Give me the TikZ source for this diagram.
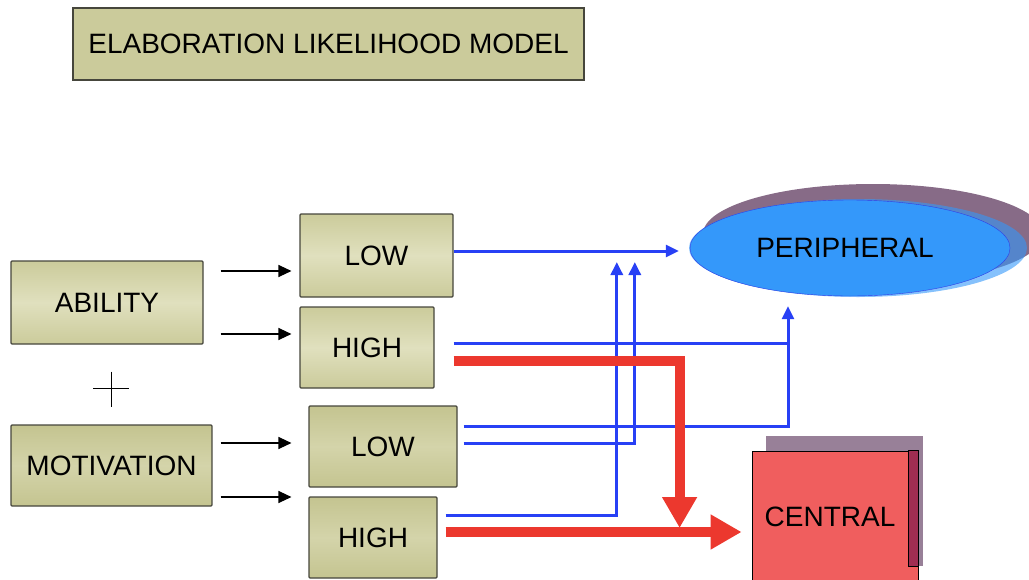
\documentclass[tikz,border=0pt]{standalone}
\usepackage{fontspec}
\setmainfont{Liberation Sans}
\usepackage{xcolor}
\usetikzlibrary{arrows.meta,calc,shapes.geometric,positioning}

\definecolor{boxedge}{RGB}{203,203,155}
\definecolor{boxmid}{RGB}{224,224,190}
\definecolor{boxdark}{RGB}{196,196,144}
\definecolor{boxdarkmid}{RGB}{212,212,170}
\definecolor{boxline}{RGB}{70,70,60}
\definecolor{bline}{RGB}{40,64,245}
\definecolor{rline}{RGB}{236,56,46}
\definecolor{pfill}{RGB}{52,152,250}
\definecolor{pline}{RGB}{50,60,230}
\definecolor{pshadow}{RGB}{105,70,105}
\definecolor{cfill}{RGB}{240,94,94}
\definecolor{cshadow}{RGB}{152,128,152}
\definecolor{cstrip}{RGB}{160,45,82}

\begin{document}
\begin{tikzpicture}[x=1pt,y=1pt,yscale=-1,xscale=1,
  txt/.style={font=\fontsize{28}{32}\selectfont, inner sep=0pt},
  box/.style={txt, draw=boxline, line width=1.1pt, rounded corners=1pt,
    top color=boxedge, bottom color=boxedge, middle color=boxmid},
  darkbox/.style={box, top color=boxdark, bottom color=boxdark, middle color=boxdarkmid},
  blk/.style={line width=1.2pt, -{Triangle[length=13pt,width=12pt]}, shorten >=8pt},
  blu/.style={draw=bline, line width=3pt},
  bluarr/.style={blu, -{Triangle[length=13pt,width=12pt]}},
  redarr/.style={draw=rline, line width=10pt, -{Triangle[length=31pt,width=33pt]}}]
\useasboundingbox (0,0) rectangle (1029,579);

% Text Node
\node[txt, draw=boxline, line width=1.1pt, fill=boxedge, minimum width=511pt, minimum height=72pt] (title) at (328.5,44) {ELABORATION LIKELIHOOD MODEL};

% Text Node
\node[box, minimum width=192pt, minimum height=83pt] (ability) at (107,302.5) {ABILITY};
\node[darkbox, minimum width=201pt, minimum height=81pt] (motivation) at (111.5,465.5) {MOTIVATION};

% Text Node
\node[box, minimum width=153pt, minimum height=83pt] (low1) at (376.5,255.5) {LOW};
\node[box, minimum width=134pt, minimum height=81pt] (high1) at (367,347.5) {HIGH};
\node[darkbox, minimum width=148pt, minimum height=81pt] (low2) at (383,446.5) {LOW};
\node[darkbox, minimum width=128pt, minimum height=81pt] (high2) at (373,537.5) {HIGH};

%Shape: Ellipse
\fill[pshadow, fill opacity=0.8] (873,234) ellipse [x radius=170, y radius=50];
\fill[pfill, fill opacity=0.6] (858,248) ellipse [x radius=169, y radius=49];
\node[txt, ellipse, draw=pline, fill=pfill, minimum width=320pt, minimum height=96pt, text depth=0pt, xshift=0pt] (periph) at (850,248) {};
\node[txt] (periphtext) at ($(periph.center)+(-5,0)$) {PERIPHERAL};

%Shape: Rectangle
\fill[cshadow] (766,436) rectangle (923,566);
\node[txt, draw=black, line width=0.8pt, fill=cfill, minimum width=166pt, minimum height=131pt] (central) at (835,516.5) {};
\filldraw[fill=cstrip, draw=black, line width=0.6pt] ($(central.north east)+(-10,0)$) rectangle ($(central.south east)+(0,-16)$);
\node[txt] (centraltext) at ($(central.center)+(-5,0)$) {CENTRAL};

%Straight Lines
\coordinate (plus) at ($(ability.south)!0.5!(motivation.north)+(2,4)$);
\draw[line width=0.9pt] ($(plus)+(-18,0)$) -- ($(plus)+(18,0)$);
\draw[line width=0.9pt] ($(plus)+(0,-17)$) -- ($(plus)+(0,18)$);

%Straight Lines
\draw[blk] ($(ability.east)+(17,-31.5)$) coordinate (a1) -- (a1 -| low1.west);
\draw[blk] ($(ability.east)+(17,31.5)$) coordinate (a2) -- (a2 -| high1.west);
\draw[blk, shorten >=17pt] ($(motivation.east)+(8,-22.5)$) coordinate (m1) -- (m1 -| low2.west);
\draw[blk, shorten >=17pt] ($(motivation.east)+(8,31.5)$) coordinate (m2) -- (m2 -| high2.west);

%Straight Lines
\coordinate (pin) at ($(periph.south)+(-62,10)$);
\coordinate (tipA) at ($(periph.west)+(-73,14)$);
\coordinate (tipB) at ($(periph.west)+(-55,14)$);
\draw[bluarr, shorten >=11pt] ($(low1.east)+(0,-4.5)$) coordinate (l1) -- (l1 -| periph.west);
\draw[blu] ($(high1.east)+(19,-4.5)$) coordinate (h1) -- (h1 -| pin);
\draw[bluarr] ($(low2.east)+(6,-20.5)$) -| (pin);
\draw[bluarr] ($(low2.east)+(6,-3.5)$) -| (tipB);
\draw[bluarr] ($(high2.east)+(8,-22.5)$) -| (tipA);

%Straight Lines
\coordinate (rdown) at ($(central.west)+(-72,11.5)$);
\draw[redarr] ($(high1.east)+(19,13.5)$) -| (rdown);
\draw[redarr, shorten >=10pt] ($(high2.east)+(8,-5.5)$) coordinate (h2) -- (h2 -| central.west);

\end{tikzpicture}
\end{document}
